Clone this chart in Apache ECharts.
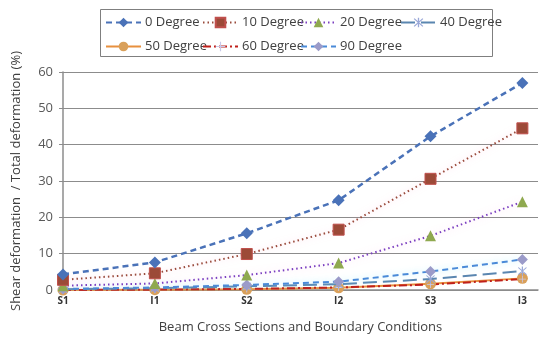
<!DOCTYPE html>
<html><head><meta charset="utf-8">
<script src="https://cdn.jsdelivr.net/npm/echarts@6/dist/echarts.min.js"></script>
<style>html,body{margin:0;padding:0;background:#fff}#c{width:550px;height:343px}</style>
</head><body><div id="c"></div>
<script>
const categories = ['S1','I1','S2','I2','S3','I3'];
const deg0  = [4.3, 7.6, 15.6, 24.7, 42.3, 57.0];
const deg10 = [2.8, 4.6, 9.9, 16.6, 30.6, 44.5];
const deg20 = [1.2, 1.8, 4.1, 7.4, 14.9, 24.3];
const deg40 = [0.2, 0.5, 1.0, 1.6, 3.0, 5.2];
const deg50 = [0.0, 0.1, 0.2, 0.6, 1.7, 3.2];
const deg60 = [0.0, 0.1, 0.3, 0.7, 1.5, 3.0];
const deg90 = [0.3, 0.7, 1.4, 2.3, 5.1, 8.4];
const yTicks = [0,10,20,30,40,50,60];

const asterisk = 'path://M4.4,0H5.6V10H4.4Z M0.6,1.4L1.4,0.6L9.4,8.6L8.6,9.4Z M8.6,0.6L9.4,1.4L1.4,9.4L0.6,8.6Z';
const plus = 'path://M4.4,0H5.6V10H4.4Z M0,4.4H10V5.6H0Z';

function pts(arr){ return arr.map((v,i)=>[i,v]); }
const font = '"Open Sans", "Liberation Sans", sans-serif';

const seriesDefs = [
  {name:'0 Degree', data:deg0, color:'#4a72b8', line:{type:[6,4], width:2.5}, symbol:'diamond', size:12, z:7},
  {name:'10 Degree', data:deg10, color:'#9a4b3c', line:{type:[1.5,3], width:2}, symbol:'rect', size:11, mcolor:'#9c4a38', mborder:'#c0504d', glow:'rgba(255,160,200,0.6)', z:6},
  {name:'20 Degree', data:deg20, color:'#7a3ec0', line:{type:[1.5,3], width:2}, symbol:'triangle', size:11, mcolor:'#8fa94f', glow:'rgba(255,170,220,0.5)', z:5},
  {name:'40 Degree', data:deg40, color:'#5a86b0', line:{type:[14,6], width:2}, symbol:asterisk, size:9, mcolor:'#9aa8d8', z:3},
  {name:'50 Degree', data:deg50, color:'#e8903e', line:{type:'solid', width:2}, symbol:'circle', size:11, mcolor:'#d9a05a', z:2},
  {name:'60 Degree', data:deg60, color:'#c0201a', line:{type:[8,3,2,3], width:2}, symbol:plus, size:7, mcolor:'#c8c8e8', z:2},
  {name:'90 Degree', data:deg90, color:'#4a8ad8', line:{type:[6,4], width:2}, symbol:'diamond', size:11, mcolor:'#9b9bc9', glow:'rgba(120,230,255,0.6)', z:4}
];

const series = seriesDefs.map(d => ({
  name: d.name, type: 'line', data: pts(d.data), z: d.z,
  symbol: d.symbol, symbolSize: d.size, showSymbol: true,
  lineStyle: Object.assign({color: d.color, shadowBlur: d.glow?6:0, shadowColor: d.glow||'transparent'}, d.line),
  itemStyle: {color: d.mcolor || d.color, borderColor: d.mborder || d.mcolor || d.color, borderWidth: d.mborder?1:0},
  emphasis: {disabled: true}, animation: false
}));

const legendPos = [
  [105,16],[202,16],[300,16],[400,16],
  [105,40],[202,40],[300,40]
];
const legends = seriesDefs.map((d,i)=>({
  data:[d.name], left: legendPos[i][0], top: legendPos[i][1], padding:0,
  itemWidth: 35, itemHeight: 12, itemGap: 0, selectedMode:false,
  textStyle:{fontFamily:font, fontSize:13, color:'#404040', padding:[0,0,0,-1]}
}));

const chart = echarts.init(document.getElementById('c'), null, {renderer:'canvas'});
chart.setOption({
  backgroundColor:'#fff',
  animation:false,
  grid:{left:63, right:12, top:72, bottom:53, containLabel:false},
  legend: legends,
  graphic:[{type:'rect', shape:{x:100.5, y:9.5, width:392, height:47}, style:{fill:'none', stroke:'#7f7f7f', lineWidth:1}, silent:true}],
  xAxis:{
    type:'value', min:0, max:5.17, interval:1,
    name:'Beam Cross Sections and Boundary Conditions', nameLocation:'middle', nameGap:31,
    nameTextStyle:{fontFamily:font, fontSize:13, color:'#404040'},
    axisLine:{show:true, onZero:false, lineStyle:{color:'#8c8c8c', width:1.5}},
    axisTick:{show:false},
    splitLine:{show:false},
    axisLabel:{margin:6, fontFamily:font, fontSize:10, fontWeight:'bold', color:'#333',
      formatter: v => (Math.abs(v-Math.round(v))<1e-6 && categories[Math.round(v)]) ? categories[Math.round(v)] : '',
      showMaxLabel:false}
  },
  yAxis:{
    type:'value', min:yTicks[0], max:yTicks[yTicks.length-1], interval:10,
    name:'Shear deformation  / Total deformation (%)', nameLocation:'middle', nameGap:40,
    nameTextStyle:{fontFamily:font, fontSize:13, color:'#404040'},
    axisLine:{show:true, lineStyle:{color:'#8c8c8c', width:1.5}},
    axisTick:{show:true, length:4, lineStyle:{color:'#8c8c8c'}},
    splitLine:{show:true, lineStyle:{color:'#8c8c8c', width:1.2}},
    axisLabel:{margin:10, fontFamily:font, fontSize:13, color:'#595959'}
  },
  series: series
});
</script></body></html>
